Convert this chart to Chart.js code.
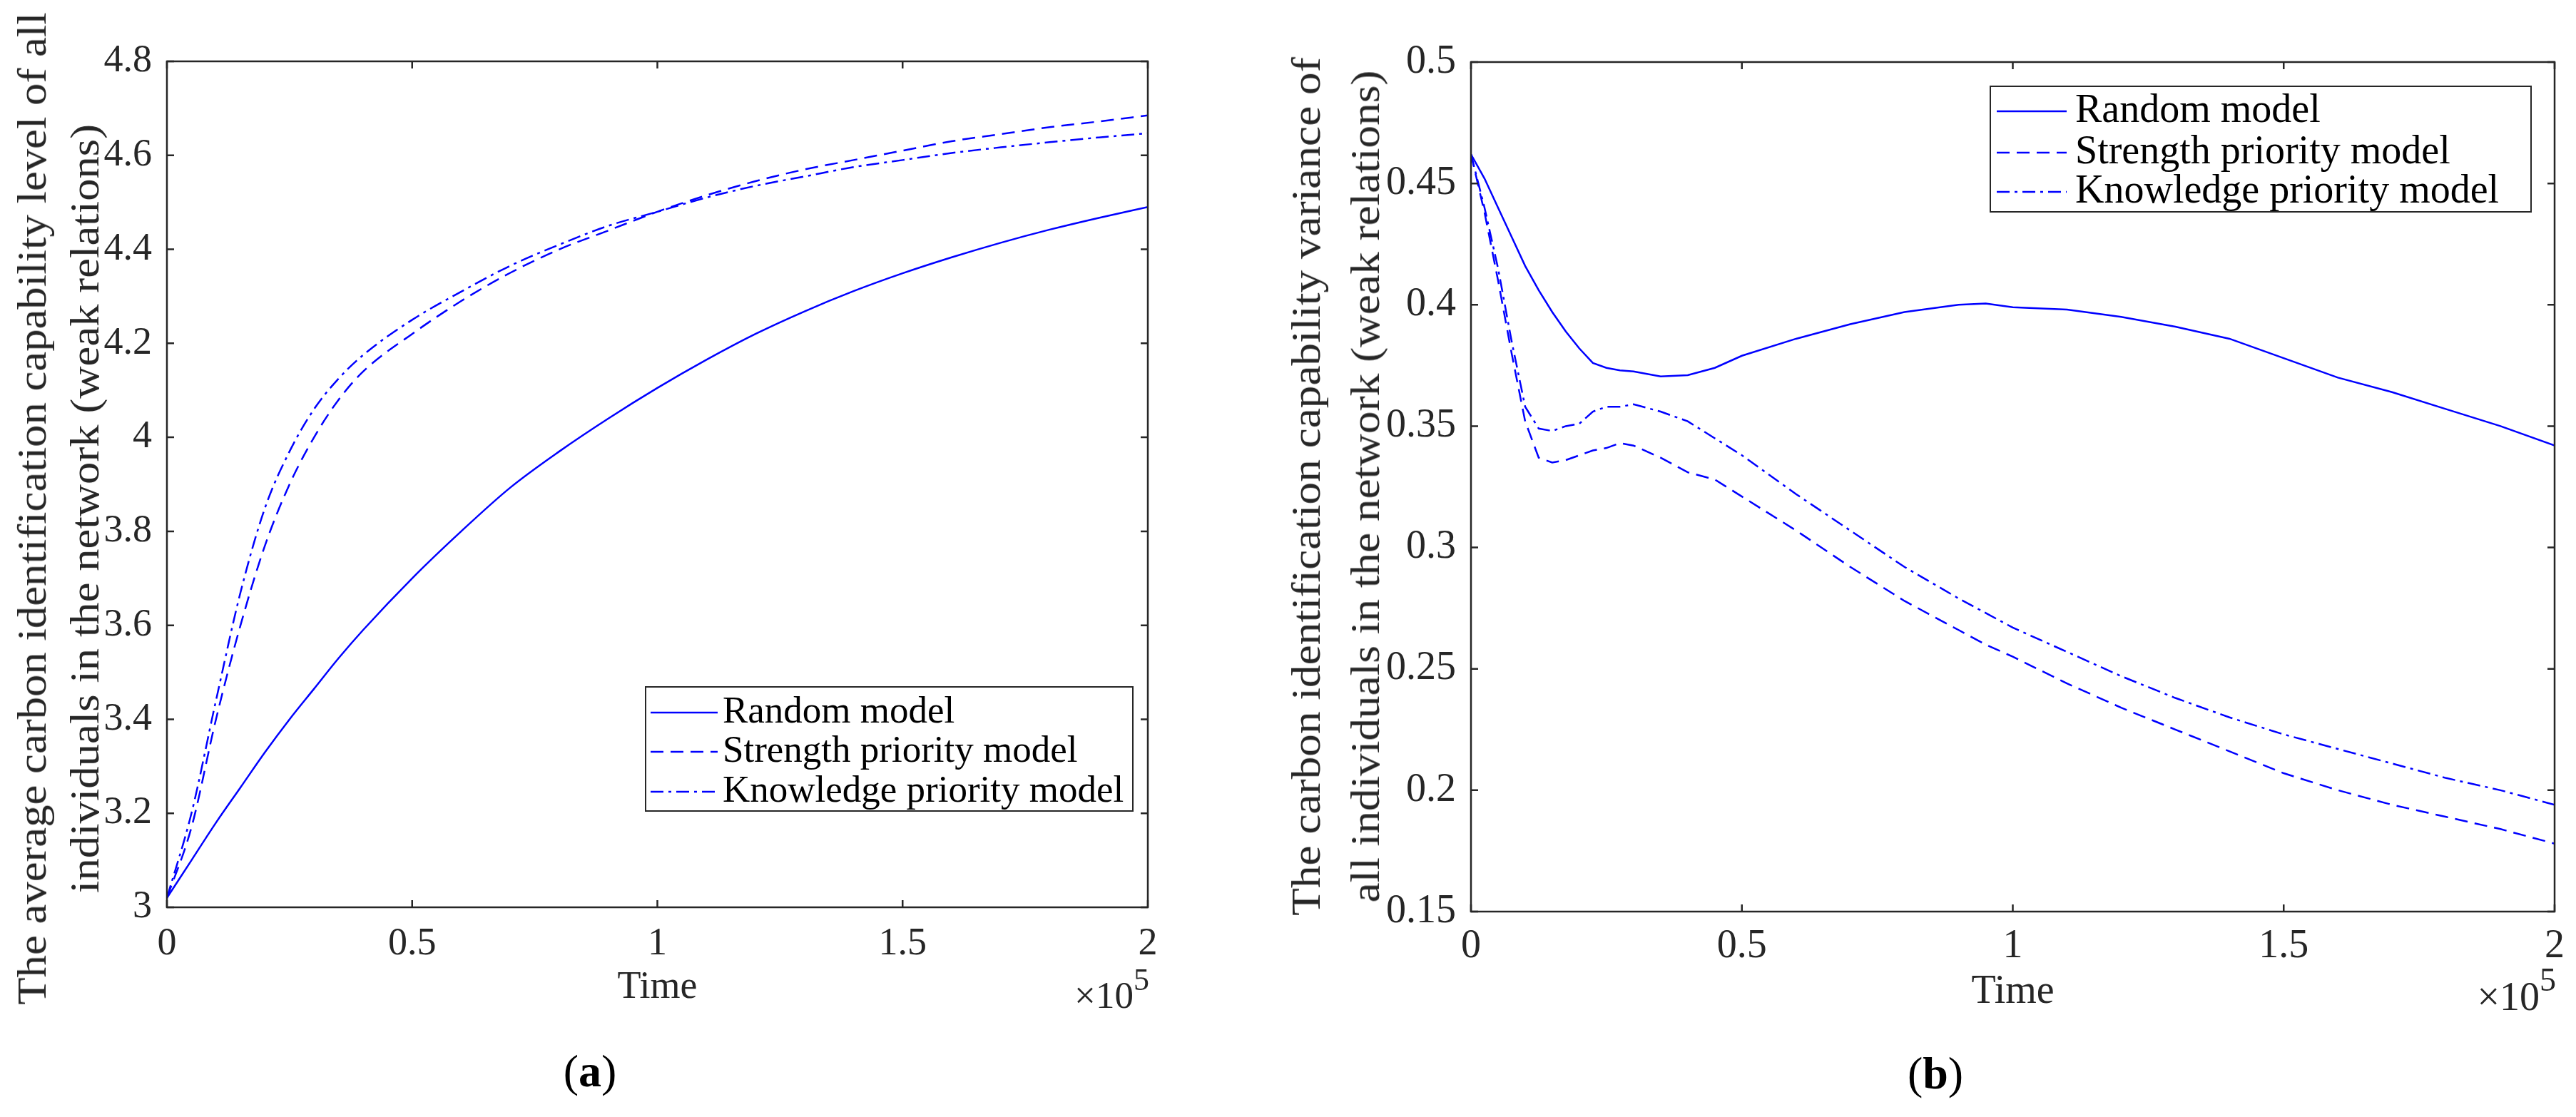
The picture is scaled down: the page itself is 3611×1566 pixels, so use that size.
<!DOCTYPE html>
<html>
<head>
<meta charset="utf-8">
<script src="https://cdn.jsdelivr.net/npm/chart.js@4.4.0/dist/chart.umd.min.js"></script>
<style>
  html, body { margin: 0; padding: 0; background: #fff; }
  body { width: 3611px; height: 1566px; position: relative; overflow: hidden;
         font-family: 'Liberation Serif', 'Times New Roman', serif; color: #262626; }
  .panel { position: absolute; top: 0; height: 1566px; }
  #panelA { left: 0; width: 1800px; }
  #panelB { left: 1800px; width: 1811px; }
  .ytitle { position: absolute; white-space: nowrap; line-height: 1; font-size: 56px; }
  #panelA .ytitle { transform: translate(-50%, -50%) rotate(-90deg) scaleX(1.12); }
  #panelB .ytitle { transform: translate(-50%, -50%) rotate(-90deg) scaleX(1.13); }
  .exp { position: absolute; white-space: nowrap; line-height: 1; transform: translateX(-100%); }
  .exp span { position: relative; }
  .tag { position: absolute; white-space: nowrap; line-height: 1; font-size: 64px;
         transform: translate(-50%, -50%); color: #000; }
</style>
</head>
<body>
<div class="panel" id="panelA">
  <canvas id="chartA"></canvas>
  <div class="ytitle" style="left:45px; top:713px;">The average carbon identification capability level of all</div>
  <div class="ytitle" style="left:119px; top:713px;">individuals in the network (weak relations)</div>
  <div class="exp" style="left:1611px; top:1369px; font-size:53px;">×10<span style="font-size:44px; top:-25px;">5</span></div>
  <div class="tag" style="left:827px; top:1502px;">(<b>a</b>)</div>
</div>
<div class="panel" id="panelB">
  <canvas id="chartB"></canvas>
  <div class="ytitle" style="left:31px; top:682px;">The carbon identification capability variance of</div>
  <div class="ytitle" style="left:114px; top:682px;">all individuals in the network (weak relations)</div>
  <div class="exp" style="left:1783px; top:1369px; font-size:56px;">×10<span style="font-size:46px; top:-27px;">5</span></div>
  <div class="tag" style="left:913px; top:1505px;">(<b>b</b>)</div>
</div>
<script>
// Series labels
var seriesNames = ["Random model", "Strength priority model", "Knowledge priority model"];

// (a) average capability level, time in units of 10^5
var timeA = [0, 0.05, 0.1, 0.15, 0.2, 0.25, 0.3, 0.35, 0.4, 0.5, 0.6, 0.7, 0.8, 0.9, 1.0,
             1.1, 1.2, 1.3, 1.4, 1.5, 1.6, 1.7, 1.8, 1.9, 2.0];
var randomA = [3.02, 3.10, 3.18, 3.255, 3.33, 3.40, 3.465, 3.53, 3.59, 3.70, 3.80, 3.893, 3.97, 4.04, 4.105,
               4.165, 4.22, 4.268, 4.311, 4.349, 4.383, 4.414, 4.442, 4.467, 4.49];
var strengthA = [3.02, 3.17, 3.40, 3.60, 3.77, 3.90, 4.00, 4.08, 4.14, 4.22, 4.29, 4.35, 4.40, 4.44, 4.48,
                 4.515, 4.545, 4.57, 4.59, 4.61, 4.63, 4.645, 4.66, 4.672, 4.685];
var knowledgeA = [3.02, 3.20, 3.44, 3.67, 3.85, 3.97, 4.06, 4.125, 4.175, 4.25, 4.31, 4.365, 4.41, 4.45, 4.48,
                  4.51, 4.535, 4.555, 4.575, 4.59, 4.605, 4.617, 4.628, 4.638, 4.647];

// (b) capability variance
var timeB = [0, 0.025, 0.05, 0.075, 0.1, 0.125, 0.15, 0.175, 0.2, 0.225, 0.25, 0.275, 0.3, 0.35, 0.4,
             0.45, 0.5, 0.6, 0.7, 0.8, 0.9, 0.95, 1.0, 1.1, 1.2, 1.3, 1.4, 1.5, 1.6, 1.7, 1.8, 1.9, 2.0];
var randomB = [0.462, 0.452, 0.440, 0.428, 0.416, 0.406, 0.397, 0.389, 0.382, 0.376, 0.374, 0.373, 0.3725, 0.3705, 0.371,
               0.374, 0.379, 0.386, 0.392, 0.397, 0.400, 0.4005, 0.399, 0.398, 0.395, 0.391, 0.386, 0.378, 0.370, 0.364,
               0.357, 0.350, 0.342];
var strengthB = [0.462, 0.438, 0.410, 0.380, 0.352, 0.337, 0.335, 0.336, 0.338, 0.340, 0.341, 0.343, 0.342, 0.337, 0.331,
                 0.328, 0.321, 0.307, 0.292, 0.278, 0.266, 0.260, 0.255, 0.244, 0.234, 0.225, 0.216, 0.207, 0.200, 0.194,
                 0.189, 0.184, 0.178];
var knowledgeB = [0.462, 0.440, 0.415, 0.385, 0.358, 0.349, 0.348, 0.350, 0.351, 0.356, 0.358, 0.358, 0.359, 0.356, 0.352,
                  0.345, 0.338, 0.322, 0.307, 0.292, 0.279, 0.273, 0.267, 0.257, 0.247, 0.238, 0.230, 0.223, 0.217, 0.211,
                  0.205, 0.200, 0.194];

var blue = '#0000ff';
var axisColor = '#262626';
var fontFamily = "'Liberation Serif', 'Times New Roman', serif";
var dashes = [[], [18, 10], [18, 7, 4, 7]];

function points(xs, ys) {
    return xs.map(function (x, i) { return { x: x, y: ys[i] }; });
}

function cleanNumber(v) {
    return String(parseFloat(v.toFixed(3)));
}

// box around the axes with ticks pointing inwards on all four sides
var matlabFrame = {
    id: 'matlabFrame',
    afterDatasetsDraw: function (chart, args, opts) {
        var ctx = chart.ctx, a = chart.chartArea;
        var x = chart.scales.x, y = chart.scales.y;
        var len = opts.tickLength;
        ctx.save();
        ctx.strokeStyle = opts.color;
        ctx.lineWidth = opts.width;
        ctx.beginPath();
        x.ticks.forEach(function (t) {
            var px = x.getPixelForValue(t.value);
            ctx.moveTo(px, a.bottom); ctx.lineTo(px, a.bottom - len);
            ctx.moveTo(px, a.top); ctx.lineTo(px, a.top + len);
        });
        y.ticks.forEach(function (t) {
            var py = y.getPixelForValue(t.value);
            ctx.moveTo(a.left, py); ctx.lineTo(a.left + len, py);
            ctx.moveTo(a.right, py); ctx.lineTo(a.right - len, py);
        });
        ctx.stroke();
        ctx.strokeRect(a.left, a.top, a.right - a.left, a.bottom - a.top);
        ctx.restore();
    }
};

// framed legend inside the plot, samples drawn with each dataset's own dash
var boxLegend = {
    id: 'boxLegend',
    afterDraw: function (chart, args, o) {
        var ctx = chart.ctx;
        ctx.save();
        ctx.fillStyle = '#fff';
        ctx.fillRect(o.box[0], o.box[1], o.box[2] - o.box[0], o.box[3] - o.box[1]);
        ctx.strokeStyle = axisColor;
        ctx.lineWidth = 2;
        ctx.strokeRect(o.box[0], o.box[1], o.box[2] - o.box[0], o.box[3] - o.box[1]);
        chart.data.datasets.forEach(function (ds, i) {
            var yy = o.rows[i];
            ctx.strokeStyle = ds.borderColor;
            ctx.lineWidth = ds.borderWidth;
            ctx.setLineDash(ds.borderDash);
            ctx.beginPath();
            ctx.moveTo(o.lineX[0], yy);
            ctx.lineTo(o.lineX[1], yy);
            ctx.stroke();
            ctx.setLineDash([]);
            ctx.fillStyle = '#000';
            ctx.font = o.fontSize + 'px ' + fontFamily;
            ctx.textBaseline = 'middle';
            ctx.textAlign = 'left';
            ctx.fillText(ds.label, o.textX, yy);
        });
        ctx.restore();
    }
};

function makeChart(id, time, series, s) {
    var ctx = document.getElementById(id).getContext('2d');
    return new Chart(ctx, {
        type: 'line',
        data: {
            datasets: series.map(function (ys, i) {
                return {
                    label: seriesNames[i],
                    data: points(time, ys),
                    borderColor: blue,
                    borderWidth: 2.5,
                    borderDash: dashes[i],
                    pointRadius: 0,
                    cubicInterpolationMode: s.smooth ? 'monotone' : 'default',
                    tension: 0,
                    fill: false
                };
            })
        },
        options: {
            responsive: true,
            maintainAspectRatio: false,
            animation: false,
            layout: { padding: s.padding },
            plugins: {
                legend: { display: false },
                tooltip: { enabled: false },
                matlabFrame: { color: axisColor, width: 2.5, tickLength: 10 },
                boxLegend: s.legend
            },
            scales: {
                x: {
                    type: 'linear',
                    min: 0, max: 2,
                    afterFit: function (scale) { scale.height = s.xHeight; },
                    grid: { display: false, drawTicks: false },
                    border: { display: false },
                    ticks: {
                        stepSize: 0.5, padding: s.xTickPad, color: axisColor,
                        font: { family: fontFamily, size: s.fontSize, lineHeight: 1.2 },
                        maxRotation: 0,
                        callback: cleanNumber
                    },
                    title: {
                        display: true, text: 'Time', color: axisColor,
                        font: { family: fontFamily, size: s.fontSize, lineHeight: 1.2 },
                        padding: { top: 0, bottom: 0 }
                    }
                },
                y: {
                    min: s.yMin, max: s.yMax,
                    afterFit: function (scale) { scale.width = s.yWidth; },
                    grid: { display: false, drawTicks: false },
                    border: { display: false },
                    ticks: {
                        stepSize: s.yStep, padding: 21, color: axisColor,
                        font: { family: fontFamily, size: s.fontSize },
                        callback: cleanNumber
                    }
                }
            }
        },
        plugins: [matlabFrame, boxLegend]
    });
}

var chartA = makeChart('chartA', timeA, [randomA, strengthA, knowledgeA], {
    smooth: true,
    padding: { left: 20, top: 86, right: 191, bottom: 149 },
    yWidth: 214, xHeight: 145, xTickPad: 19, fontSize: 54,
    yMin: 3, yMax: 4.8, yStep: 0.2,
    legend: { box: [905, 963, 1588, 1137], rows: [999, 1054, 1110], lineX: [912, 1006], textX: 1013, fontSize: 53 }
});

var chartB = makeChart('chartB', timeB, [randomB, strengthB, knowledgeB], {
    smooth: false,
    padding: { left: 20, top: 87, right: 29, bottom: 141 },
    yWidth: 242, xHeight: 147, xTickPad: 16, fontSize: 56,
    yMin: 0.15, yMax: 0.5, yStep: 0.05,
    legend: { box: [990, 121, 1748, 297], rows: [156, 214, 269], lineX: [999, 1097], textX: 1109, fontSize: 56 }
});
</script>
</body>
</html>
